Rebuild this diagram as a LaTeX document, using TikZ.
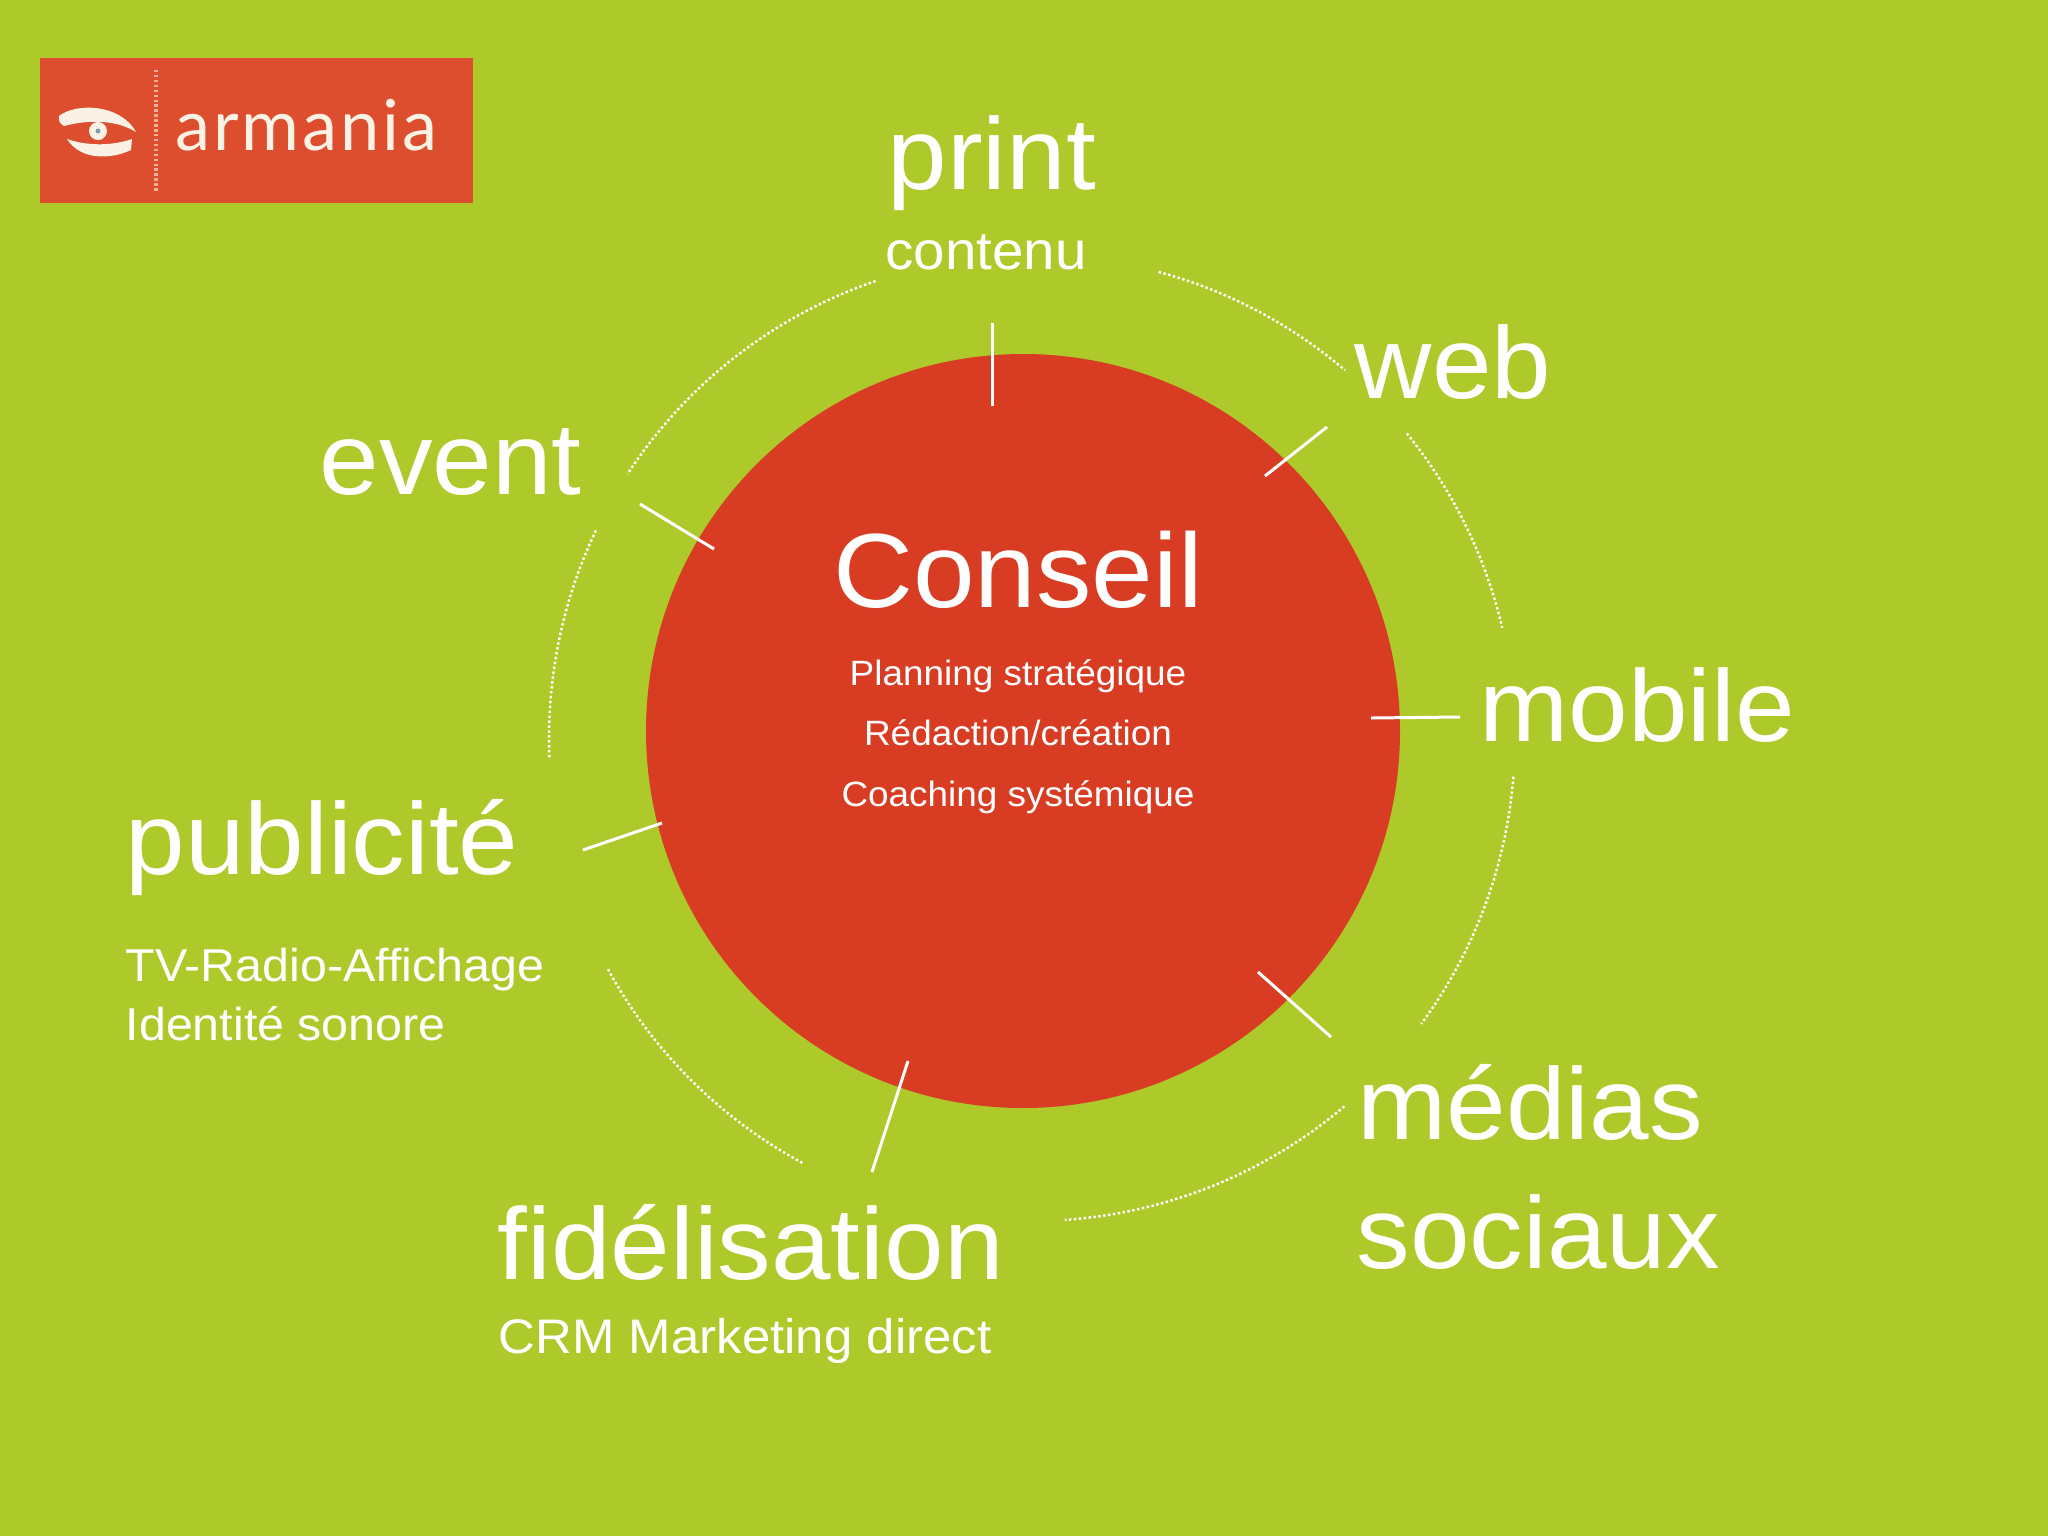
\documentclass[tikz,border=0pt]{standalone}
\usepackage{fontspec}
\setmainfont[FakeStretch=1.05]{Liberation Sans}
\newfontfamily\logofont[LetterSpace=4]{Lato}
\definecolor{fondvert}{HTML}{ADCA2A}
\definecolor{rougecercle}{HTML}{D83C22}
\definecolor{rougelogo}{HTML}{DC4E2E}
\definecolor{cremelogo}{HTML}{FBF1E4}
\tikzset{
    grandtitre/.style={anchor=base west,inner sep=0pt,text=white,font=\fontsize{29}{29}\selectfont},
    soustitre/.style={anchor=base west,inner sep=0pt,text=white,font=\fontsize{13.1}{13.1}\selectfont},
    textecentre/.style={anchor=base,inner sep=0pt,text=white,font=\fontsize{10}{10}\selectfont},
    trait/.style={white,line width=0.85pt},
    pointille/.style={white,line width=0.7pt,dash pattern=on 0.7pt off 0.7pt},
}
\begin{document}
\begin{tikzpicture}[x=0.01cm,y=-0.01cm]
    \def\grandrayon{483}
    \useasboundingbox (0,0) rectangle (2048,1536);
    \fill[fondvert] (0,0) rectangle (2048,1536);

    % logo
    \fill[rougelogo] (40,58) rectangle (473,203);
    \draw[cremelogo!60!rougelogo,line width=1pt,dash pattern=on 0.7pt off 0.7pt] (156,70) -- (156,191);
    \fill[cremelogo] (59,116) .. controls (75,103) and (120,103) .. (136,132) .. controls (120,122) and (95,118) .. (64,126) .. controls (60,124) and (58,120) .. (59,116) -- cycle;
    \fill[cremelogo] (67,139) .. controls (90,147) and (115,145) .. (132,139) -- (131,150) .. controls (110,160) and (80,160) .. (67,139) -- cycle;
    \fill[cremelogo] (98,131) circle (9);
    \fill[gray!70!cyan] (98,131) circle (2.5);
    \node[anchor=base west,inner sep=0pt,text=cremelogo,font=\logofont\fontsize{20}{20}\selectfont] (armania) at (175,150) {armania};

    % cercle
    \fill[rougecercle] (1023,731) circle (377);

    % arcs
    \draw[pointille] (1032,738) ++(251.1:\grandrayon) arc (251.1:213.1:\grandrayon);
    \draw[pointille] (1032,738) ++(285.2:\grandrayon) arc (285.2:310.4:\grandrayon);
    \draw[pointille] (1032,738) ++(320.9:\grandrayon) arc (320.9:346.8:\grandrayon);
    \draw[pointille] (1032,738) ++(4.6:\grandrayon) arc (4.6:36.3:\grandrayon);
    \draw[pointille] (1032,738) ++(49.7:\grandrayon) arc (49.7:86.1:\grandrayon);
    \draw[pointille] (1032,738) ++(118.4:\grandrayon) arc (118.4:151.6:\grandrayon);
    \draw[pointille] (1032,738) ++(177.7:\grandrayon) arc (177.7:205.6:\grandrayon);

    % traits
    \coordinate (printa) at (992,323);
    \coordinate (printb) at (992,406);
    \coordinate (weba) at (1327,427);
    \coordinate (webb) at (1265,476);
    \coordinate (mobilea) at (1371,718);
    \coordinate (mobileb) at (1460,717);
    \coordinate (mediasa) at (1258,972);
    \coordinate (mediasb) at (1331,1037);
    \coordinate (fidela) at (908,1061);
    \coordinate (fidelb) at (872,1172);
    \coordinate (puba) at (662,823);
    \coordinate (pubb) at (583,850);
    \coordinate (eventa) at (714,549);
    \coordinate (eventb) at (640,504);
    \draw[trait] (printa) -- (printb);
    \draw[trait] (weba) -- (webb);
    \draw[trait] (mobilea) -- (mobileb);
    \draw[trait] (mediasa) -- (mediasb);
    \draw[trait] (fidela) -- (fidelb);
    \draw[trait] (puba) -- (pubb);
    \draw[trait] (eventa) -- (eventb);

    % textes du centre
    \node[textecentre,font=\fontsize{30}{30}\selectfont] (conseil) at (1018,607) {Conseil};
    \node[textecentre] (planning) at (1018,685) {Planning stratégique};
    \node[textecentre] (redaction) at (1018,745) {Rédaction/création};
    \node[textecentre] (coaching) at (1018,806) {Coaching systémique};

    % textes autour
    \node[grandtitre] (print) at (887,189) {print};
    \node[soustitre,font=\fontsize{15.3}{15.3}\selectfont] (contenu) at (885,269) {contenu};
    \node[grandtitre] (web) at (1354,398) {web};
    \node[grandtitre] (mobile) at (1479,741) {mobile};
    \node[grandtitre] (medias) at (1357,1139) {médias};
    \node[grandtitre] (sociaux) at (1356,1268) {sociaux};
    \node[grandtitre] (fidelisation) at (497,1279) {fidélisation};
    \node[soustitre,font=\fontsize{13.8}{13.8}\selectfont] (crm) at (498,1353) {CRM Marketing direct};
    \node[grandtitre] (publicite) at (125,874) {publicité};
    \node[soustitre] (tvradio) at (125,981) {TV-Radio-Affichage};
    \node[soustitre] (identite) at (125,1040) {Identité sonore};
    \node[grandtitre] (event) at (319,494) {event};
\end{tikzpicture}
\end{document}
